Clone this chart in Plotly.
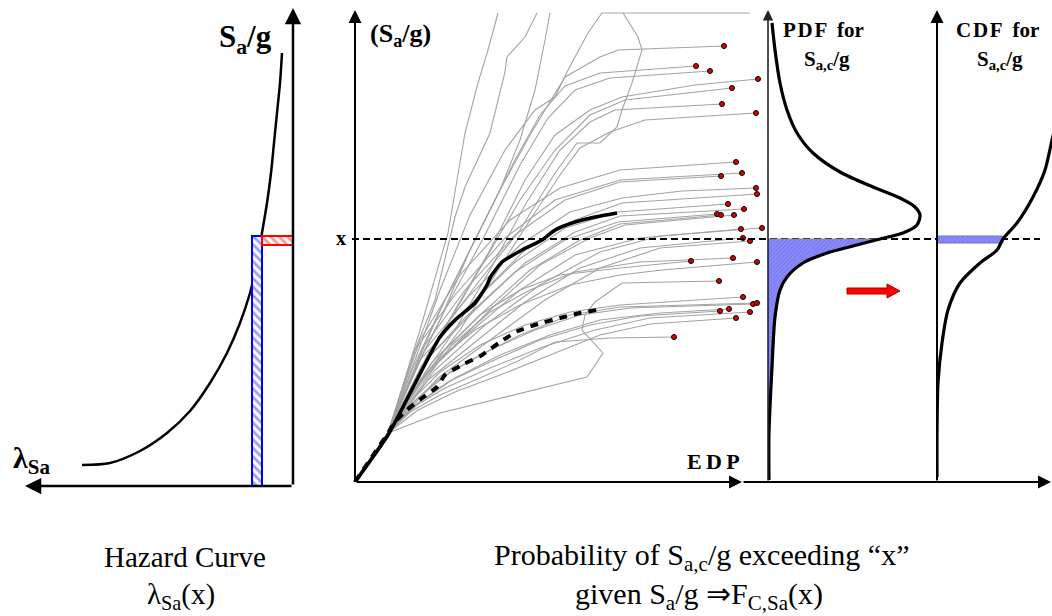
import plotly.graph_objects as go

W, H = 1052, 616

# ---------------- Hazard curve (left panel) ----------------
HAZ_LAMBDA = [2.11, 1.83, 1.53, 1.26, 1.03, 0.83, 0.66, 0.53, 0.43, 0.36, 0.31,
              0.26, 0.22, 0.19, 0.16, 0.13, 0.11]
HAZ_SA = [0.21, 0.23, 0.35, 0.53, 0.75, 1.03, 1.33, 1.63, 1.93, 2.23, 2.53,
          2.83, 3.13, 3.43, 3.73, 4.03, 4.33]
HAZ_STRIP_LAMBDA = [0.31, 0.41]   # lambda at Sa = x and the strip width
HAZ_STRIP_SA = [2.41, 2.50]       # Sa band around x

# ---------------- IDA curves (middle panel) ----------------
# each record starts at the end of the common elastic branch
IDA_EDP = [
    [0.33, 0.60, 0.85, 1.15, 1.50, 1.80, 2.00, 2.13, 2.33, 2.47, 3.95],
    [0.33, 0.65, 0.93, 1.10, 1.23, 1.33, 1.43],
    [0.33, 0.60, 0.80, 1.00, 1.10, 1.35, 1.50, 1.52, 1.70, 1.82],
    [0.33, 0.55, 0.85, 1.15, 1.45, 1.65, 1.80, 1.90, 1.95],
    [0.33, 0.65, 0.95, 1.25, 1.65, 2.00, 2.22, 2.45, 2.62, 2.67, 2.77, 2.87, 2.83, 2.68],
    [0.33, 0.57, 0.85, 1.15, 1.45, 1.75, 2.10, 2.45, 2.63, 3.69],
    [0.33, 0.63, 0.90, 1.25, 1.60, 1.85, 2.10, 2.45, 3.41],
    [0.33, 0.60, 0.95, 1.30, 1.65, 1.93, 2.20, 2.55, 3.55],
    [0.33, 0.65, 1.00, 1.35, 1.70, 2.00, 2.35, 2.67, 3.40, 4.03],
    [0.33, 0.63, 0.95, 1.30, 1.65, 2.00, 2.35, 2.70, 3.77],
    [0.33, 0.65, 1.00, 1.35, 1.70, 2.05, 2.35, 2.60, 3.67],
    [0.33, 0.70, 1.05, 1.40, 1.75, 2.05, 2.25, 2.55, 2.90, 4.01],
    [0.33, 0.65, 1.05, 1.55, 2.05, 2.65, 3.81],
    [0.33, 0.70, 1.10, 1.60, 2.10, 2.65, 3.66],
    [0.33, 0.60, 1.00, 1.50, 2.00, 2.65, 3.87],
    [0.33, 0.70, 1.15, 1.65, 2.15, 2.67, 3.27, 4.01],
    [0.33, 0.75, 1.20, 1.70, 2.20, 2.67, 4.02],
    [0.33, 0.65, 1.10, 1.60, 2.10, 2.63, 3.73],
    [0.33, 0.73, 1.20, 1.70, 2.20, 2.65, 3.89],
    [0.33, 0.67, 1.10, 1.60, 2.10, 2.63, 3.62],
    [0.33, 0.77, 1.25, 1.75, 2.25, 2.65, 3.66],
    [0.33, 0.85, 1.35, 1.85, 2.35, 2.70, 3.79],
    [0.33, 0.70, 1.15, 1.65, 2.20, 2.85, 3.86],
    [0.33, 0.80, 1.30, 1.85, 2.45, 3.05, 4.07],
    [0.33, 0.73, 1.20, 1.70, 2.25, 2.85, 3.88],
    [0.33, 0.83, 1.35, 1.90, 2.45, 3.05, 3.95],
    [0.33, 0.60, 0.90, 1.25, 1.65, 2.05, 2.65, 3.36],
    [0.33, 0.65, 0.97, 1.35, 1.75, 2.20, 2.85, 3.78],
    [0.33, 0.57, 0.85, 1.20, 1.65, 2.15, 2.65, 3.07, 4.02],
    [0.33, 0.85, 2.32, 2.48, 2.27, 2.30, 2.40, 2.67, 3.64],
    [0.33, 0.57, 0.85, 1.25, 1.70, 2.15, 2.65, 3.88],
    [0.33, 0.63, 0.95, 1.35, 1.80, 2.25, 2.75, 3.98],
    [0.33, 0.55, 0.83, 1.20, 1.65, 2.15, 2.65, 4.02],
    [0.33, 0.60, 0.93, 1.35, 1.85, 2.35, 2.85, 3.65],
    [0.33, 0.65, 1.00, 1.45, 1.95, 2.45, 3.05, 3.74],
    [0.33, 0.57, 0.90, 1.35, 1.85, 2.40, 2.95, 3.95],
    [0.33, 0.63, 1.00, 1.45, 1.95, 2.45, 2.95, 3.81],
    [0.33, 0.55, 0.85, 1.25, 1.65, 2.00, 2.55, 3.19],
]
IDA_SA = [
    [0.49, 1.22, 1.92, 2.67, 3.32, 3.72, 3.85, 4.12, 4.49, 4.69, 4.69],
    [0.49, 1.52, 2.49, 3.49, 3.99, 4.32, 4.69],
    [0.49, 1.32, 1.82, 2.65, 2.95, 3.49, 4.10, 4.25, 4.45, 4.69],
    [0.49, 1.02, 1.62, 2.32, 2.92, 3.42, 3.92, 4.42, 4.69],
    [0.49, 1.12, 1.62, 2.02, 2.52, 3.09, 3.39, 3.39, 3.55, 3.72, 3.99, 4.32, 4.45, 4.69],
    [0.49, 1.12, 1.72, 2.32, 2.92, 3.47, 4.05, 4.25, 4.32, 4.36],
    [0.49, 1.22, 1.82, 2.52, 3.22, 3.67, 3.96, 4.09, 4.16],
    [0.49, 1.12, 1.82, 2.47, 3.17, 3.64, 3.92, 4.04, 4.11],
    [0.49, 1.12, 1.72, 2.32, 3.02, 3.47, 3.72, 3.85, 3.97, 4.03],
    [0.49, 1.07, 1.62, 2.22, 2.82, 3.32, 3.67, 3.82, 3.94],
    [0.49, 1.02, 1.52, 2.12, 2.77, 3.32, 3.60, 3.72, 3.78],
    [0.49, 1.07, 1.52, 2.07, 2.62, 3.07, 3.34, 3.50, 3.62, 3.69],
    [0.49, 1.42, 2.07, 2.62, 2.94, 3.12, 3.20],
    [0.49, 1.37, 1.92, 2.47, 2.82, 3.00, 3.06],
    [0.49, 1.32, 1.87, 2.44, 2.82, 3.02, 3.09],
    [0.49, 1.32, 1.87, 2.37, 2.70, 2.84, 2.91, 2.94],
    [0.49, 1.32, 1.82, 2.32, 2.62, 2.79, 2.88],
    [0.49, 1.22, 1.72, 2.20, 2.54, 2.70, 2.78],
    [0.49, 1.24, 1.72, 2.19, 2.50, 2.66, 2.73],
    [0.49, 1.17, 1.64, 2.10, 2.42, 2.60, 2.68],
    [0.49, 1.20, 1.67, 2.12, 2.42, 2.58, 2.67],
    [0.49, 1.22, 1.72, 2.17, 2.44, 2.57, 2.67],
    [0.49, 1.07, 1.50, 1.92, 2.27, 2.44, 2.53],
    [0.49, 1.12, 1.57, 1.97, 2.30, 2.46, 2.54],
    [0.49, 1.02, 1.40, 1.80, 2.14, 2.34, 2.44],
    [0.49, 1.04, 1.42, 1.82, 2.14, 2.34, 2.41],
    [0.49, 0.92, 1.32, 1.67, 1.92, 2.07, 2.14, 2.21],
    [0.49, 0.97, 1.37, 1.70, 1.92, 2.10, 2.20, 2.24],
    [0.49, 0.90, 1.24, 1.52, 1.77, 1.97, 2.07, 2.12, 2.20],
    [0.49, 0.69, 1.05, 1.29, 1.52, 1.67, 1.80, 1.99, 2.01],
    [0.49, 0.82, 1.10, 1.37, 1.57, 1.70, 1.77, 1.85],
    [0.49, 0.84, 1.10, 1.32, 1.52, 1.67, 1.74, 1.78],
    [0.49, 0.77, 1.02, 1.24, 1.47, 1.67, 1.75, 1.79],
    [0.49, 0.77, 1.00, 1.20, 1.42, 1.57, 1.66, 1.71],
    [0.49, 0.80, 1.04, 1.27, 1.47, 1.62, 1.69, 1.73],
    [0.49, 0.74, 0.94, 1.14, 1.34, 1.52, 1.64, 1.70],
    [0.49, 0.72, 0.90, 1.07, 1.27, 1.47, 1.58, 1.64],
    [0.49, 0.70, 0.87, 1.04, 1.22, 1.40, 1.44, 1.45],
]
# records that end in collapse (marked with a dot)
IDA_COLLAPSE = [False] * 5 + [True] * 33

MEDIAN_EDP = [0.0, 0.33, 0.50, 0.67, 0.85, 1.00, 1.20, 1.32, 1.35, 1.47, 1.67, 1.87, 2.00, 2.20, 2.40, 2.62]
MEDIAN_SA = [0.0, 0.47, 0.79, 1.12, 1.45, 1.62, 1.79, 1.97, 2.04, 2.20, 2.32, 2.42, 2.52, 2.60, 2.65, 2.69]
FRACTILE_EDP = [0.0, 0.33, 0.40, 0.52, 0.67, 0.82, 0.90, 1.07, 1.27, 1.45, 1.63, 1.83, 2.05, 2.25, 2.48]
FRACTILE_SA = [0.0, 0.49, 0.60, 0.72, 0.84, 0.95, 1.07, 1.17, 1.27, 1.40, 1.51, 1.58, 1.64, 1.69, 1.73]

X_LEVEL = 2.43   # Sa/g = x

# ---------------- collapse capacity PDF / CDF ----------------
PDF_DENS = [0.04, 0.07, 0.12, 0.19, 0.29, 0.45, 0.72, 1.05, 1.32, 1.47, 1.52, 1.49, 1.35,
            1.12, 0.85, 0.59, 0.35, 0.19, 0.12, 0.07, 0.04, 0.01, 0.01]
PDF_SA = [4.59, 4.32, 3.99, 3.72, 3.49, 3.29, 3.10, 2.95, 2.84, 2.75, 2.67, 2.57, 2.49,
          2.43, 2.36, 2.29, 2.19, 2.05, 1.92, 1.65, 1.15, 0.49, 0.02]
CDF_PROB = [0.00, 0.00, 0.01, 0.05, 0.11, 0.23, 0.43, 0.60, 0.66, 0.80, 0.96, 1.08, 1.15, 1.21]
CDF_SA = [0.05, 0.49, 0.99, 1.39, 1.72, 1.99, 2.19, 2.32, 2.43, 2.59, 2.85, 3.12, 3.42, 3.67]
CDF_AT_X = 0.66
CDF_BAND_SA = [2.39, 2.46]

fig = go.Figure()

BLUE_HATCH = dict(shape="\\", fgcolor="#2f3cf0", bgcolor="white", size=6, solidity=0.45)
RED_HATCH = dict(shape="\\", fgcolor="#ff2020", bgcolor="white", size=6, solidity=0.45)
PDF_HATCH = dict(shape="/", fgcolor="#5c5ce8", bgcolor="#8c8cfa", size=3, solidity=0.35)

# ----- left: hazard curve -----
fig.add_trace(go.Scatter(x=HAZ_LAMBDA, y=HAZ_SA, mode="lines",
                         line=dict(color="black", width=2.5, shape="spline", smoothing=0.8),
                         xaxis="x", yaxis="y", hoverinfo="skip"))
l0, l1 = HAZ_STRIP_LAMBDA
s0, s1 = HAZ_STRIP_SA
fig.add_trace(go.Scatter(x=[l0, l1, l1, l0, l0], y=[0, 0, s1, s1, 0], mode="lines",
                         fill="toself", fillcolor="white", fillpattern=BLUE_HATCH,
                         line=dict(color="#0000ff", width=2), xaxis="x", yaxis="y", hoverinfo="skip"))
fig.add_trace(go.Scatter(x=[0, l0, l0, 0, 0], y=[s0, s0, s1, s1, s0], mode="lines",
                         fill="toself", fillcolor="white", fillpattern=RED_HATCH,
                         line=dict(color="#ff0000", width=2), xaxis="x", yaxis="y", hoverinfo="skip"))

# ----- middle: IDA curves -----
for edp, sa in zip(IDA_EDP, IDA_SA):
    fig.add_trace(go.Scatter(x=[0.0] + edp, y=[0.0] + sa, mode="lines",
                             line=dict(color="#a3a3a3", width=1.1),
                             xaxis="x2", yaxis="y2", hoverinfo="skip"))

fig.add_trace(go.Scatter(x=MEDIAN_EDP, y=MEDIAN_SA, mode="lines",
                         line=dict(color="black", width=3.5, shape="spline", smoothing=0.6),
                         xaxis="x2", yaxis="y2", hoverinfo="skip"))
fig.add_trace(go.Scatter(x=FRACTILE_EDP, y=FRACTILE_SA, mode="lines",
                         line=dict(color="black", width=4, dash="8px,7px", shape="spline", smoothing=0.6),
                         xaxis="x2", yaxis="y2", hoverinfo="skip"))

end_x = [e[-1] for e, c in zip(IDA_EDP, IDA_COLLAPSE) if c]
end_y = [s[-1] for s, c in zip(IDA_SA, IDA_COLLAPSE) if c]
fig.add_trace(go.Scatter(x=end_x, y=end_y, mode="markers",
                         marker=dict(color="#e00000", size=5, line=dict(color="black", width=1)),
                         xaxis="x2", yaxis="y2", hoverinfo="skip"))

# horizontal dashed line at Sa = x
fig.add_trace(go.Scatter(x=[-0.03, 6.85], y=[X_LEVEL, X_LEVEL], mode="lines",
                         line=dict(color="black", width=2, dash="7px,4px"),
                         xaxis="x2", yaxis="y2", hoverinfo="skip"))

# ----- PDF of collapse capacity -----
fill_d = [0.0] + [d for d, s in zip(PDF_DENS, PDF_SA) if s <= X_LEVEL] + [0.0]
fill_s = [X_LEVEL] + [s for s in PDF_SA if s <= X_LEVEL] + [PDF_SA[-1]]
fig.add_trace(go.Scatter(x=fill_d, y=fill_s, mode="lines", fill="toself",
                         fillcolor="#8c8cfa", fillpattern=PDF_HATCH,
                         line=dict(color="#8a8a8a", width=1),
                         xaxis="x3", yaxis="y2", hoverinfo="skip"))
fig.add_trace(go.Scatter(x=PDF_DENS, y=PDF_SA, mode="lines",
                         line=dict(color="black", width=3.2, shape="spline", smoothing=0.8),
                         xaxis="x3", yaxis="y2", hoverinfo="skip"))

# transition arrow between PDF and CDF
ARROW_X = [0.79, 1.19, 1.19, 1.32, 1.19, 1.19, 0.79, 0.79]
ARROW_Y = [1.94, 1.94, 1.98, 1.91, 1.84, 1.88, 1.88, 1.94]
fig.add_trace(go.Scatter(x=ARROW_X, y=ARROW_Y, mode="lines", fill="toself",
                         fillcolor="#ff0000", line=dict(color="#b00000", width=1),
                         xaxis="x3", yaxis="y2", hoverinfo="skip"))

# ----- CDF of collapse capacity -----
b0, b1 = CDF_BAND_SA
fig.add_trace(go.Scatter(x=[0, CDF_AT_X, CDF_AT_X, 0, 0], y=[b0, b0, b1, b1, b0], mode="lines",
                         fill="toself", fillcolor="#8c8cfa", fillpattern=PDF_HATCH,
                         line=dict(color="#7070d8", width=1),
                         xaxis="x4", yaxis="y2", hoverinfo="skip"))
fig.add_trace(go.Scatter(x=CDF_PROB, y=CDF_SA, mode="lines",
                         line=dict(color="black", width=3.2, shape="spline", smoothing=0.8),
                         xaxis="x4", yaxis="y2", hoverinfo="skip"))


def axis_arrow(xref, yref, x0, y0, x1, y1, width=2.0, color="black"):
    fig.add_annotation(x=x1, y=y1, ax=x0, ay=y0, xref=xref, yref=yref,
                       axref=xref, ayref=yref, text="", showarrow=True,
                       arrowhead=2, arrowsize=1.3, arrowwidth=width,
                       arrowcolor=color, standoff=0)


# axes drawn as arrows
axis_arrow("x", "y", 0, 0, 0, 4.78, width=2.5)
axis_arrow("x", "y", 0, 0, 2.68, 0, width=2.5)
axis_arrow("x2", "y2", 0, 0, 0, 4.72, width=2)
axis_arrow("x2", "y2", 0, 0, 3.87, 0, width=2)
axis_arrow("x2", "y2", 3.87, 0, 6.96, 0, width=2)
axis_arrow("x3", "y2", 0, 0, 0, 4.72, width=1.6, color="#222222")
axis_arrow("x4", "y2", 0, 0, 0, 4.72, width=2)

SERIF = "Liberation Serif, Times New Roman, serif"


def label(text, px, py, size, bold=True):
    t = f"<b>{text}</b>" if bold else text
    fig.add_annotation(x=px / W, y=1 - py / H, xref="paper", yref="paper",
                       text=t, showarrow=False, xanchor="center", yanchor="middle",
                       font=dict(family=SERIF, size=size, color="black"))


label("S<sub>a</sub>/g", 245, 39, 31)
label("λ<sub>Sa</sub>", 31, 460, 30)
label("(S<sub>a</sub>/g)", 400, 35, 26)
label("x", 341, 238, 20)
label("E\u2009D\u2009P", 713, 461, 22)
label("P\u200aD\u200aF  for", 823, 30, 21)
label("S<sub>a,c</sub>/g", 827, 60, 21)
label("C\u200aD\u200aF  for", 997, 30, 21)
label("S<sub>a,c</sub>/g", 1000, 60, 21)

label("Hazard Curve", 185, 557, 29, bold=False)
label("λ<sub>Sa</sub>(x)", 181, 596, 29, bold=False)
label("Probability of S<sub>a,c</sub>/g exceeding \u201cx\u201d", 701, 557, 30, bold=False)
label("given S<sub>a</sub>/g \u21d2F<sub>C,Sa</sub>(x)", 699, 596, 30, bold=False)

fig.update_layout(
    width=W, height=H, margin=dict(l=0, r=0, t=0, b=0),
    paper_bgcolor="white", plot_bgcolor="rgba(0,0,0,0)", showlegend=False,
    xaxis=dict(domain=[0, 300 / W], range=[2.93, -0.07], visible=False, anchor="y"),
    yaxis=dict(domain=[130 / H, 1], range=[0, 4.86], visible=False, anchor="x"),
    xaxis2=dict(domain=[345 / W, 1], range=[-0.10, 6.97], visible=False, anchor="y2"),
    yaxis2=dict(domain=[134 / H, 1], range=[0, 4.82], visible=False, anchor="x2"),
    xaxis3=dict(domain=[768 / W, 1], range=[0, 2.84], visible=False, anchor="y2"),
    xaxis4=dict(domain=[937 / W, 1], range=[0, 1.15], visible=False, anchor="y2"),
)

fig.write_html("out.html")
